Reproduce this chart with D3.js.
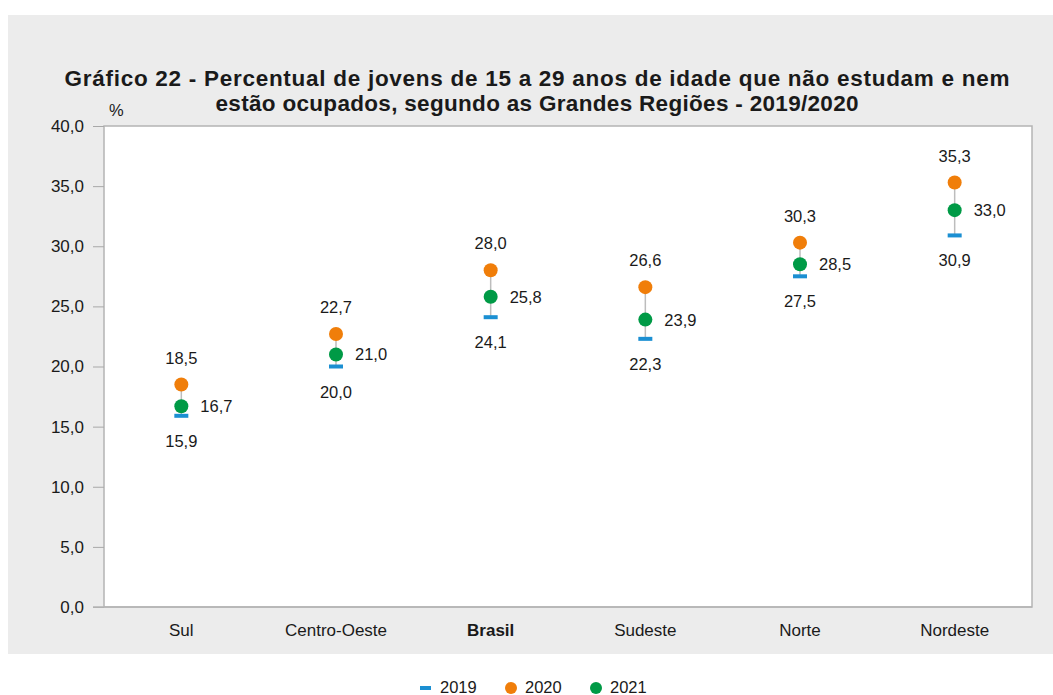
<!DOCTYPE html>
<html>
<head>
<meta charset="utf-8">
<script src="https://cdn.jsdelivr.net/npm/d3@7"></script>
<style>
  body { margin: 0; background: #fff; }
  svg { display: block; font-family: "Liberation Sans", Arial, sans-serif; }
</style>
</head>
<body>
<svg width="1053" height="695"></svg>
<script>
const TITLE = ["Gráfico 22 - Percentual de jovens de 15 a 29 anos de idade que não estudam e nem",
               "estão ocupados, segundo as Grandes Regiões - 2019/2020"];
const regions = ["Sul", "Centro-Oeste", "Brasil", "Sudeste", "Norte", "Nordeste"];
const v2019 = [15.9, 20.0, 24.1, 22.3, 27.5, 30.9];
const v2020 = [18.5, 22.7, 28.0, 26.6, 30.3, 35.3];
const v2021 = [16.7, 21.0, 25.8, 23.9, 28.5, 33.0];
const yTicks = [0, 5, 10, 15, 20, 25, 30, 35, 40];
const years = ["2019", "2020", "2021"];

const colors = { "2019": "#1b8fd2", "2020": "#f07e0a", "2021": "#009a46" };
const fmt = d => d3.format(".1f")(d).replace(".", ",");
const FS = 16.5;

const svg = d3.select("svg");

svg.append("rect")
    .attr("x", 8).attr("y", 15)
    .attr("width", 1045).attr("height", 639)
    .attr("fill", "#ececec");

const margin = { left: 104, right: 1032, top: 126, bottom: 607 };

const x = d3.scaleBand()
    .domain(regions)
    .range([margin.left, margin.right]);

const y = d3.scaleLinear()
    .domain([0, 40])
    .range([margin.bottom, margin.top]);

svg.selectAll(".title")
    .data(TITLE)
    .enter().append("text")
        .attr("x", 537)
        .attr("y", (d, i) => 86 + i * 25)
        .attr("text-anchor", "middle")
        .attr("font-size", 22.5)
        .attr("font-weight", "bold")
        .attr("fill", "#1a1a1a")
        .attr("textLength", (d, i) => i === 0 ? 945 : 643)
        .attr("lengthAdjust", "spacing")
        .text(d => d);

svg.append("rect")
    .attr("x", margin.left).attr("y", margin.top)
    .attr("width", margin.right - margin.left)
    .attr("height", margin.bottom - margin.top)
    .attr("fill", "#fff")
    .attr("stroke", "#b4b4b4")
    .attr("stroke-width", 1.5);

svg.append("g")
    .attr("transform", `translate(${margin.left},0)`)
    .call(d3.axisLeft(y).tickValues(yTicks).tickSize(11).tickPadding(9).tickFormat(fmt))
    .call(g => g.select(".domain").remove())
    .call(g => g.selectAll("line").attr("stroke", "#a8a8a8"))
    .call(g => g.selectAll("text").attr("font-size", FS + 0.5).attr("fill", "#1a1a1a")
        .attr("font-family", "Liberation Sans, Arial, sans-serif"));

svg.append("line")
    .attr("x1", 93).attr("x2", margin.right)
    .attr("y1", margin.bottom).attr("y2", margin.bottom)
    .attr("stroke", "#b4b4b4").attr("stroke-width", 1.5);

svg.append("text")
    .attr("x", 109).attr("y", 116)
    .attr("font-size", FS).attr("fill", "#1a1a1a")
    .text("%");

svg.append("g")
    .selectAll("text")
    .data(regions)
    .enter().append("text")
        .attr("x", d => x(d) + x.bandwidth() / 2)
        .attr("y", 636)
        .attr("text-anchor", "middle")
        .attr("font-size", FS + 0.5)
        .attr("font-weight", d => d === "Brasil" ? "bold" : "normal")
        .attr("fill", "#1a1a1a")
        .text(d => d);

const rows = regions.map((r, i) => ({ r, a: v2019[i], b: v2020[i], c: v2021[i] }));
const cx = d => x(d.r) + x.bandwidth() / 2;

const pts = svg.append("g");

pts.selectAll(".stem")
    .data(rows)
    .enter().append("line")
        .attr("x1", cx).attr("x2", cx)
        .attr("y1", d => y(d.b)).attr("y2", d => y(d.a))
        .attr("stroke", "#bdbdbd").attr("stroke-width", 1.5);

pts.selectAll(".m2019")
    .data(rows)
    .enter().append("rect")
        .attr("x", d => cx(d) - 7).attr("y", d => y(d.a) - 2)
        .attr("width", 14).attr("height", 4)
        .attr("fill", colors["2019"]);

pts.selectAll(".m2020")
    .data(rows)
    .enter().append("circle")
        .attr("cx", cx).attr("cy", d => y(d.b)).attr("r", 7)
        .attr("fill", colors["2020"]);

pts.selectAll(".m2021")
    .data(rows)
    .enter().append("circle")
        .attr("cx", cx).attr("cy", d => y(d.c)).attr("r", 7)
        .attr("fill", colors["2021"]);

const lab = (cls, dx, dy, anchor, key) => pts.selectAll(cls)
    .data(rows)
    .enter().append("text")
        .attr("x", d => cx(d) + dx)
        .attr("y", d => y(d[key]) + dy)
        .attr("text-anchor", anchor)
        .attr("font-size", FS)
        .attr("fill", "#1a1a1a")
        .text(d => fmt(d[key]));

lab(".l2020", 0, -21, "middle", "b");
lab(".l2021", 19, 6, "start", "c");
lab(".l2019", 0, 31, "middle", "a");

const legend = svg.append("g");
const legX = [420, 505, 590];
years.forEach((yr, i) => {
    if (yr === "2019") {
        legend.append("rect").attr("x", legX[i]).attr("y", 686).attr("width", 11).attr("height", 4)
            .attr("fill", colors[yr]);
    } else {
        legend.append("circle").attr("cx", legX[i] + 6).attr("cy", 688).attr("r", 6)
            .attr("fill", colors[yr]);
    }
    legend.append("text")
        .attr("x", legX[i] + 20).attr("y", 693)
        .attr("font-size", FS).attr("fill", "#1a1a1a")
        .text(yr);
});
</script>
</body>
</html>
